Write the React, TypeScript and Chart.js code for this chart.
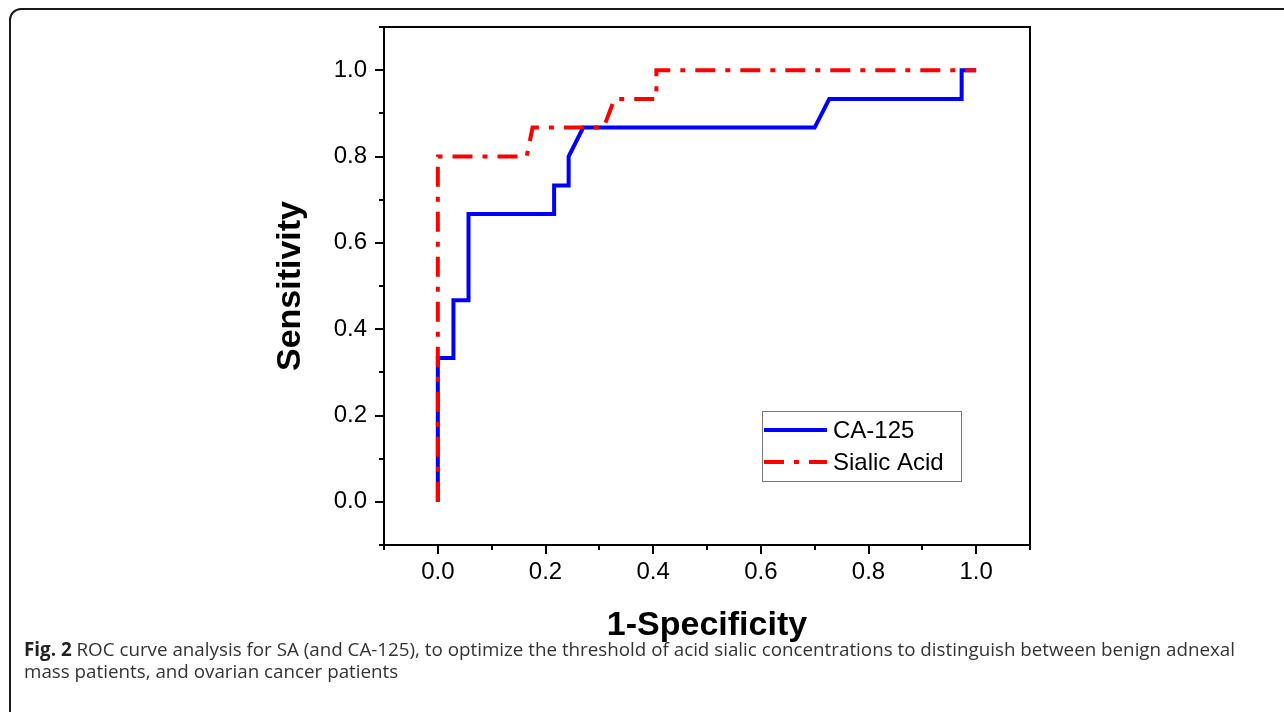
import React, { useEffect, useRef } from 'react';
import { Chart, registerables } from 'chart.js';

Chart.register(...registerables);

// ---- Data ----
const seriesNames = ['CA-125', 'Sialic Acid'];
const caX = [0, 0, 0.029, 0.029, 0.057, 0.057, 0.216, 0.216, 0.243, 0.243, 0.27, 0.7, 0.727, 0.973, 0.973, 1.0];
const caY = [0, 0.333, 0.333, 0.467, 0.467, 0.667, 0.667, 0.733, 0.733, 0.8, 0.867, 0.867, 0.933, 0.933, 1.0, 1.0];
const saX = [0, 0, 0.165, 0.176, 0.308, 0.328, 0.406, 0.406, 1.0];
const saY = [0, 0.8, 0.8, 0.867, 0.867, 0.933, 0.933, 1.0, 1.0];
const xTitle = '1-Specificity';
const yTitle = 'Sensitivity';
const axisMin = -0.1;
const axisMax = 1.1;
const tickStep = 0.1;
const captionLabel = 'Fig. 2';
const captionLine1 =
  ' ROC curve analysis for SA (and CA-125), to optimize the threshold of acid sialic concentrations to distinguish between benign adnexal';
const captionLine2 = 'mass patients, and ovarian cancer patients';

const FONT = "'Liberation Sans', Arial, sans-serif";

const isMajor = (v: number) => Math.round(v * 10) % 2 === 0;

const framePlugin = {
  id: 'framePlugin',
  afterDraw(chart: any) {
    const { ctx, chartArea: a, scales } = chart;
    ctx.save();
    ctx.strokeStyle = '#000';
    ctx.lineWidth = 2;
    ctx.lineCap = 'square';
    ctx.strokeRect(a.left, a.top, a.right - a.left, a.bottom - a.top);
    ctx.lineCap = 'butt';
    const xs = scales.x;
    xs.ticks.forEach((t: any, i: number) => {
      const p = Math.round(xs.getPixelForTick(i));
      const len = isMajor(t.value) ? 9 : 5;
      ctx.beginPath();
      ctx.moveTo(p, a.bottom);
      ctx.lineTo(p, a.bottom + len);
      ctx.stroke();
    });
    const ys = scales.y;
    ys.ticks.forEach((t: any, i: number) => {
      const p = Math.round(ys.getPixelForTick(i));
      const len = isMajor(t.value) ? 9 : 5;
      ctx.beginPath();
      ctx.moveTo(a.left, p);
      ctx.lineTo(a.left - len, p);
      ctx.stroke();
    });

    // Legend box inside the plot
    const bx = a.left + 378;
    const by = a.top + 384;
    const bw = 199;
    const bh = 70;
    ctx.fillStyle = '#fff';
    ctx.fillRect(bx, by, bw, bh);
    ctx.strokeStyle = '#777';
    ctx.lineWidth = 1;
    ctx.strokeRect(bx + 0.5, by + 0.5, bw, bh);
    chart.data.datasets.forEach((ds: any, i: number) => {
      const yy = by + 19 + i * 32;
      ctx.save();
      ctx.strokeStyle = ds.borderColor;
      ctx.lineWidth = ds.borderWidth;
      ctx.setLineDash(ds.borderDash || []);
      ctx.beginPath();
      ctx.moveTo(bx + 2, yy);
      ctx.lineTo(bx + 65, yy);
      ctx.stroke();
      ctx.restore();
      ctx.fillStyle = '#000';
      ctx.font = `24px ${FONT}`;
      ctx.textBaseline = 'middle';
      ctx.textAlign = 'left';
      ctx.fillText(ds.label, bx + 71, yy + 1);
    });
    ctx.restore();
  },
};

export default function App() {
  const ref = useRef<HTMLCanvasElement | null>(null);

  useEffect(() => {
    if (!ref.current) return;
    const chart = new Chart(ref.current, {
      type: 'line',
      data: {
        datasets: [
          {
            label: seriesNames[0],
            data: caX.map((x, i) => ({ x, y: caY[i] })),
            borderColor: '#0000ff',
            borderWidth: 4,
            pointRadius: 0,
            tension: 0,
            fill: false,
            borderJoinStyle: 'miter',
            order: 1,
          },
          {
            label: seriesNames[1],
            data: saX.map((x, i) => ({ x, y: saY[i] })),
            borderColor: '#ff0000',
            borderWidth: 4,
            borderDash: [20, 10, 5, 10],
            pointRadius: 0,
            tension: 0,
            fill: false,
            borderJoinStyle: 'miter',
            order: 0,
          },
        ],
      },
      options: {
        animation: false,
        responsive: false,
        events: [],
        layout: { padding: { left: 0, top: 27, right: 254, bottom: 0 } },
        plugins: {
          legend: { display: false },
          tooltip: { enabled: false },
        },
        scales: {
          x: {
            type: 'linear',
            min: axisMin,
            max: axisMax,
            grid: { display: false, drawTicks: false },
            border: { display: false },
            ticks: {
              stepSize: tickStep,
              autoSkip: false,
              maxRotation: 0,
              padding: 13,
              color: '#000',
              font: { family: FONT, size: 24 },
              callback: (v: any) => (isMajor(Number(v)) ? Number(v).toFixed(1) : ''),
            },
            title: {
              display: true,
              text: xTitle,
              color: '#000',
              font: { family: FONT, size: 34, weight: 'bold' },
              padding: { top: 0, bottom: 66 },
            },
            afterFit: (s: any) => {
              s.height = 712 - 545;
              s.paddingLeft = 0;
              s.paddingRight = 0;
            },
          },
          y: {
            type: 'linear',
            min: axisMin,
            max: axisMax,
            grid: { display: false, drawTicks: false },
            border: { display: false },
            ticks: {
              stepSize: tickStep,
              autoSkip: false,
              padding: 17,
              color: '#000',
              font: { family: FONT, size: 24 },
              callback: (v: any) => (isMajor(Number(v)) ? Number(v).toFixed(1) : ''),
            },
            title: {
              display: true,
              text: yTitle,
              color: '#000',
              font: { family: FONT, size: 34, weight: 'bold' },
              padding: { top: 270, bottom: 0 },
            },
            afterFit: (s: any) => {
              s.width = 384;
              s.paddingTop = 0;
              s.paddingBottom = 0;
            },
          },
        },
      },
      plugins: [framePlugin],
    } as any);
    return () => chart.destroy();
  }, []);

  return (
    <div
      style={{
        position: 'fixed',
        left: 0,
        top: 0,
        width: 1284,
        height: 712,
        background: '#fff',
        overflow: 'hidden',
      }}
    >
      <div
        style={{
          position: 'absolute',
          left: 9,
          top: 8,
          width: 1320,
          height: 760,
          border: '2px solid #1a1a1a',
          borderTopLeftRadius: 12,
          boxSizing: 'border-box',
        }}
      />
      <canvas
        ref={ref}
        width={1284}
        height={712}
        style={{ position: 'absolute', left: 0, top: 0, width: 1284, height: 712 }}
      />
      <div
        style={{
          position: 'absolute',
          left: 24,
          top: 638,
          width: 1260,
          fontFamily: "'Open Sans', sans-serif",
          fontSize: 18.8,
          lineHeight: '22px',
          color: '#333',
          whiteSpace: 'nowrap',
        }}
      >
        <b style={{ color: '#222' }}>{captionLabel}</b>
        {captionLine1}
        <br />
        {captionLine2}
      </div>
    </div>
  );
}
